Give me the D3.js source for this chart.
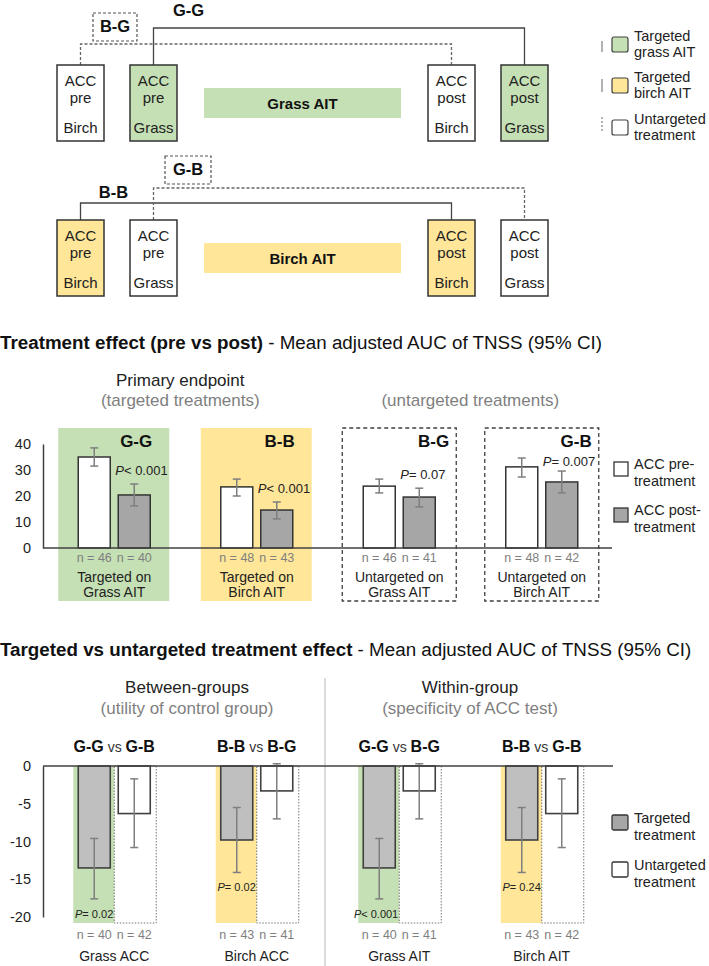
<!DOCTYPE html>
<html><head><meta charset="utf-8">
<script src="https://cdn.jsdelivr.net/npm/d3@7"></script>
<style>body{margin:0;background:#fff} svg{font-family:"Liberation Sans",Arial,sans-serif}</style>
</head><body><svg id="c" width="709" height="966"></svg>
<script>
// ---------------- DATA ----------------
// top diagram
const rowAllergen = ["Birch","Grass","Birch","Grass"];
const rowTime = ["pre","pre","post","post"];
const legendTopLabels = [["Targeted","grass AIT"],["Targeted","birch AIT"],["Untargeted","treatment"]];

// chart 1: treatment effect (pre vs post)
const groups = ["G-G","B-B","B-G","G-B"];
const groupType = ["grass","birch","untargeted","untargeted"];
const preMean = [35.0, 23.5, 23.8, 31.2];
const preLow  = [31.5, 20.0, 21.2, 27.3];
const preHigh = [38.5, 26.5, 26.5, 34.6];
const postMean = [20.4, 14.6, 19.6, 25.4];
const postLow  = [16.2, 11.2, 15.8, 21.2];
const postHigh = [24.6, 17.7, 23.0, 29.6];
const nPre  = [46, 48, 46, 48];
const nPost = [40, 43, 41, 42];
const pText1 = ["< 0.001","< 0.001","= 0.07","= 0.007"];
const catLine1 = ["Targeted on","Targeted on","Untargeted on","Untargeted on"];
const catLine2 = ["Grass AIT","Birch AIT","Grass AIT","Birch AIT"];
const yTicks1 = [0, 10, 20, 30, 40];

// chart 2: targeted vs untargeted
const compTarget  = ["G-G","B-B","G-G","B-B"];
const compControl = ["G-B","B-G","B-G","G-B"];
const targMean = [-13.5, -9.8, -13.5, -9.8];
const targLow  = [-17.6, -14.1, -17.6, -14.1];
const targHigh = [-9.6, -5.5, -9.6, -5.5];
const untMean  = [-6.3, -3.3, -3.3, -6.3];
const untLow   = [-10.8, -7.0, -7.0, -10.8];
const untHigh  = [-1.7, 0.3, 0.3, -1.7];
const nTarg = [40, 43, 40, 43];
const nUnt  = [42, 41, 41, 42];
const pText2 = ["= 0.02","= 0.02","< 0.001","= 0.24"];
const cat2 = ["Grass ACC","Birch ACC","Grass AIT","Birch AIT"];
const yTicks2 = [0, -5, -10, -15, -20];

// ---------------- STYLE ----------------
const GREEN = "#c5e0b4", YELLOW = "#ffe699", DARK = "#333", GREY_TXT = "#7f7f7f";
const svg = d3.select("#c");

// ---------------- TOP DIAGRAM ----------------
const boxX = [57, 130, 428, 501], boxW = 47, boxH = 76;
function drawRow(top, fillFor) {
  const g = svg.append("g");
  rowAllergen.forEach((a, i) => {
    const x = boxX[i];
    g.append("rect").attr("x", x).attr("y", top).attr("width", boxW).attr("height", boxH)
      .attr("fill", fillFor(a)).attr("stroke", DARK).attr("stroke-width", 1.5);
    const cx = x + boxW / 2;
    [["ACC", 21], [rowTime[i], 38], [a, 68]].forEach(([t, dy]) => {
      g.append("text").attr("x", cx).attr("y", top + dy).attr("text-anchor", "middle")
        .attr("font-size", 15).attr("fill", "#222").text(t);
    });
  });
}
function link(path, dashed) {
  svg.append("path").attr("d", path).attr("fill", "none")
    .attr("stroke", dashed ? "#666" : "#444").attr("stroke-width", 1.3)
    .attr("stroke-dasharray", dashed ? "3,2" : null);
}
function boldLabel(x, y, t, size) {
  svg.append("text").attr("x", x).attr("y", y).attr("text-anchor", "middle")
    .attr("font-size", size || 16.5).attr("font-weight", "bold").attr("fill", "#111").text(t);
}
const cxs = boxX.map(x => x + boxW / 2);
// row 1
link(`M${cxs[1]},65V28H${cxs[3]}V65`, false);
link(`M${cxs[0]},65V44H${cxs[2]}V65`, true);
svg.append("rect").attr("x", 93).attr("y", 13).attr("width", 44).attr("height", 28)
  .attr("fill", "none").attr("stroke", "#555").attr("stroke-dasharray", "3,2").attr("stroke-width", 1.2);
boldLabel(115, 32, "B-G");
boldLabel(188.5, 16, "G-G");
drawRow(65, a => a === "Grass" ? GREEN : "#fff");
svg.append("rect").attr("x", 204).attr("y", 88).attr("width", 197).attr("height", 30).attr("fill", GREEN);
boldLabel(302.5, 108.5, "Grass AIT", 15);
// row 2
link(`M${cxs[0]},220V203H${cxs[2]}V220`, false);
link(`M${cxs[1]},220V188H${cxs[3]}V220`, true);
svg.append("rect").attr("x", 165).attr("y", 156).attr("width", 46).attr("height", 28)
  .attr("fill", "none").attr("stroke", "#555").attr("stroke-dasharray", "3,2").attr("stroke-width", 1.2);
boldLabel(188, 175, "G-B");
boldLabel(113.5, 198, "B-B");
drawRow(220, a => a === "Birch" ? YELLOW : "#fff");
svg.append("rect").attr("x", 204).attr("y", 243).attr("width", 197).attr("height", 30).attr("fill", YELLOW);
boldLabel(302.5, 263.5, "Birch AIT", 15);

// top legend
const legFill = [GREEN, YELLOW, "#fff"];
const legY = [37, 78, 120];
const legMark = [[41, 52], [79, 92], [117, 132]];
legendTopLabels.forEach((lab, i) => {
  svg.append("line").attr("x1", 602).attr("x2", 602).attr("y1", legMark[i][0]).attr("y2", legMark[i][1])
    .attr("stroke", "#999").attr("stroke-width", 1.5).attr("stroke-dasharray", i === 2 ? "2,2" : null);
  svg.append("rect").attr("x", 612).attr("y", legY[i]).attr("width", 16).attr("height", 15).attr("rx", 2)
    .attr("fill", legFill[i]).attr("stroke", "#404040").attr("stroke-width", 1.2);
  lab.forEach((t, j) => svg.append("text").attr("x", 634).attr("y", legY[i] + 4 + j * 16)
    .attr("font-size", 14.5).attr("fill", "#222").text(t));
});

// ---------------- SECTION TITLES ----------------
function title(y, bold, rest) {
  const t = svg.append("text").attr("x", 0).attr("y", y).attr("font-size", 18.8).attr("fill", "#111");
  t.append("tspan").attr("font-weight", "bold").text(bold);
  t.append("tspan").text(rest);
}
title(349, "Treatment effect (pre vs post)", " - Mean adjusted AUC of TNSS (95% CI)");
title(656, "Targeted vs untargeted treatment effect", " - Mean adjusted AUC of TNSS (95% CI)");

function heading(x, y, t, grey) {
  svg.append("text").attr("x", x).attr("y", y).attr("text-anchor", "middle").attr("font-size", 17)
    .attr("fill", grey ? GREY_TXT : "#222").text(t);
}

// ---------------- CHART 1 ----------------
const x0 = d3.scaleBand().domain(d3.range(groups.length)).range([43, 613]);
const x1 = d3.scaleBand().domain(["a", "b"]).range([-36, 36]).paddingInner(0.2);
const gc = i => x0(i) + x0.bandwidth() / 2;
const y1 = d3.scaleLinear().domain([0, 40]).range([548, 444]);

heading(gc(0) + 66, 386, "Primary endpoint");
heading(gc(0) + 66, 406, "(targeted treatments)", true);
heading(gc(2) + 71, 406, "(untargeted treatments)", true);

const c1 = svg.append("g");
groups.forEach((g, i) => {
  const c = gc(i);
  if (groupType[i] === "untargeted") {
    c1.append("rect").attr("x", c - 57).attr("y", 428).attr("width", 114).attr("height", 173)
      .attr("fill", "none").attr("stroke", "#404040").attr("stroke-width", 1.3).attr("stroke-dasharray", "4,3");
  } else {
    c1.append("rect").attr("x", c - 56).attr("y", 428).attr("width", 111).attr("height", 173)
      .attr("fill", groupType[i] === "grass" ? GREEN : YELLOW);
  }
});
function errBar(g, x, lo, hi, y, cap) {
  g.append("line").attr("x1", x).attr("x2", x).attr("y1", y(lo)).attr("y2", y(hi))
    .attr("stroke", "#7f7f7f").attr("stroke-width", 1.5);
  [lo, hi].forEach(v => g.append("line").attr("x1", x - cap).attr("x2", x + cap).attr("y1", y(v)).attr("y2", y(v))
    .attr("stroke", "#7f7f7f").attr("stroke-width", 1.5));
}
groups.forEach((g, i) => {
  const c = gc(i);
  const bars = [
    { k: "a", v: preMean[i], lo: preLow[i], hi: preHigh[i], fill: "#fff", n: nPre[i] },
    { k: "b", v: postMean[i], lo: postLow[i], hi: postHigh[i], fill: "#a6a6a6", n: nPost[i] }
  ];
  bars.forEach(b => {
    const bx = c + x1(b.k);
    c1.append("rect").attr("x", bx).attr("y", y1(b.v)).attr("width", x1.bandwidth()).attr("height", y1(0) - y1(b.v))
      .attr("fill", b.fill).attr("stroke", DARK).attr("stroke-width", 1.5);
    errBar(c1, bx + x1.bandwidth() / 2, b.lo, b.hi, y1, 4);
    c1.append("text").attr("x", bx + x1.bandwidth() / 2).attr("y", 562).attr("text-anchor", "middle")
      .attr("font-size", 12.5).attr("fill", GREY_TXT).text("n = " + b.n);
  });
  // group label
  const untarg = groupType[i] === "untargeted";
  c1.append("text").attr("x", c + (untarg ? 50 : 38)).attr("y", 447).attr("text-anchor", "end")
    .attr("font-size", 17).attr("font-weight", "bold").attr("fill", "#111").text(g);
  // p label
  const pt = c1.append("text").attr("x", c + x1("b") - 3).attr("y", Math.max(y1(postHigh[i]) - 9, 466))
    .attr("font-size", 13).attr("fill", "#222");
  pt.append("tspan").attr("font-style", "italic").text("P");
  pt.append("tspan").text(pText1[i]);
  c1.append("text").attr("x", c).attr("y", 582).attr("text-anchor", "middle").attr("font-size", 14)
    .attr("fill", "#222").text(catLine1[i]);
  c1.append("text").attr("x", c).attr("y", 597).attr("text-anchor", "middle").attr("font-size", 14)
    .attr("fill", "#222").text(catLine2[i]);
});
c1.append("line").attr("x1", 43).attr("x2", 612).attr("y1", y1(0)).attr("y2", y1(0))
  .attr("stroke", "#404040").attr("stroke-width", 1.5);
const ax1 = c1.append("g").attr("transform", "translate(43,0)")
  .call(d3.axisLeft(y1).tickValues(yTicks1).tickSize(0).tickSizeOuter(0).tickPadding(12));
ax1.select(".domain").attr("stroke", "#404040").attr("stroke-width", 1.5);
ax1.selectAll("text").attr("font-size", 14.5).attr("fill", "#222").attr("font-family", null);

// legend chart 1
[["#fff", ["ACC pre-", "treatment"], 462], ["#a6a6a6", ["ACC post-", "treatment"], 508]].forEach(([f, lab, yy]) => {
  svg.append("rect").attr("x", 614).attr("y", yy).attr("width", 14).attr("height", 14)
    .attr("fill", f).attr("stroke", DARK).attr("stroke-width", 1.3);
  lab.forEach((t, j) => svg.append("text").attr("x", 634).attr("y", yy + 7 + j * 17)
    .attr("font-size", 14.5).attr("fill", "#222").text(t));
});

// ---------------- CHART 2 ----------------
const y2 = d3.scaleLinear().domain([-20, 0]).range([917, 766]);
svg.append("line").attr("x1", 325).attr("x2", 325).attr("y1", 678).attr("y2", 966)
  .attr("stroke", "#c8c8c8").attr("stroke-width", 1.3);
heading(187, 693, "Between-groups");
heading(187, 714, "(utility of control group)", true);
heading(470, 693, "Within-group");
heading(470, 714, "(specificity of ACC test)", true);

const c2 = svg.append("g");
compTarget.forEach((t, i) => {
  const c = gc(i);
  c2.append("rect").attr("x", c - 41).attr("y", y2(0)).attr("width", 41).attr("height", 923 - y2(0))
    .attr("fill", t === "G-G" ? GREEN : YELLOW);
  c2.append("rect").attr("x", c).attr("y", y2(0)).attr("width", 42).attr("height", 923 - y2(0))
    .attr("fill", "none").attr("stroke", "#777").attr("stroke-width", 1).attr("stroke-dasharray", "1.5,1.5");
  const bars = [
    { k: "a", v: targMean[i], lo: targLow[i], hi: targHigh[i], fill: "#bfbfbf", n: nTarg[i] },
    { k: "b", v: untMean[i], lo: untLow[i], hi: untHigh[i], fill: "#fff", n: nUnt[i] }
  ];
  bars.forEach(b => {
    const bx = c + x1(b.k);
    c2.append("rect").attr("x", bx).attr("y", y2(0)).attr("width", x1.bandwidth()).attr("height", y2(b.v) - y2(0))
      .attr("fill", b.fill).attr("stroke", "#404040").attr("stroke-width", 1.6);
    errBar(c2, bx + x1.bandwidth() / 2, b.lo, b.hi, y2, 4);
    c2.append("text").attr("x", bx + x1.bandwidth() / 2).attr("y", 939).attr("text-anchor", "middle")
      .attr("font-size", 12.5).attr("fill", GREY_TXT).text("n = " + b.n);
  });
  const pt = c2.append("text").attr("x", c - 1).attr("y", y2(targLow[i]) + 19).attr("text-anchor", "end")
    .attr("font-size", 11).attr("fill", "#222");
  pt.append("tspan").attr("font-style", "italic").text("P");
  pt.append("tspan").text(pText2[i]);
  const lt = c2.append("text").attr("x", c).attr("y", 752).attr("text-anchor", "middle").attr("fill", "#111");
  lt.append("tspan").attr("font-weight", "bold").attr("font-size", 16).text(t);
  lt.append("tspan").attr("font-size", 14).attr("fill", "#333").text(" vs ");
  lt.append("tspan").attr("font-weight", "bold").attr("font-size", 16).text(compControl[i]);
  c2.append("text").attr("x", c).attr("y", 961).attr("text-anchor", "middle").attr("font-size", 14)
    .attr("fill", "#222").text(cat2[i]);
});
c2.append("line").attr("x1", 43).attr("x2", 613).attr("y1", y2(0)).attr("y2", y2(0))
  .attr("stroke", "#404040").attr("stroke-width", 1.5);
const ax2 = c2.append("g").attr("transform", "translate(43,0)")
  .call(d3.axisLeft(y2).tickValues(yTicks2).tickSize(0).tickSizeOuter(0).tickPadding(12).tickFormat(d => String(d)));
ax2.select(".domain").attr("stroke", "#404040").attr("stroke-width", 1.5);
ax2.selectAll("text").attr("font-size", 14.5).attr("fill", "#222").attr("font-family", null);

// legend chart 2
[["#a6a6a6", ["Targeted", "treatment"], 815], ["#fff", ["Untargeted", "treatment"], 862]].forEach(([f, lab, yy]) => {
  svg.append("rect").attr("x", 612).attr("y", yy).attr("width", 16).attr("height", 15).attr("rx", 1.5)
    .attr("fill", f).attr("stroke", DARK).attr("stroke-width", 1.3);
  lab.forEach((t, j) => svg.append("text").attr("x", 634).attr("y", yy + 8 + j * 17)
    .attr("font-size", 14.5).attr("fill", "#222").text(t));
});
</script></body></html>
